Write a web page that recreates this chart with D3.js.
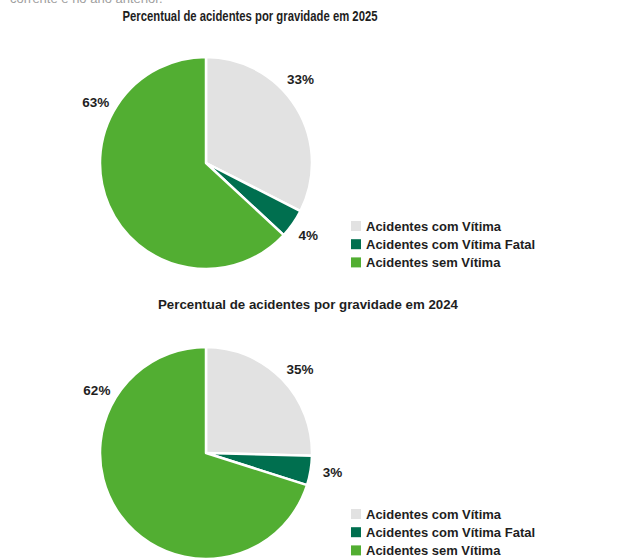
<!DOCTYPE html>
<html>
<head>
<meta charset="utf-8">
<script src="https://cdn.jsdelivr.net/npm/d3@7"></script>
<style>
  body { margin: 0; background: #fff; }
  svg { display: block; font-family: "Liberation Sans", Arial, sans-serif; }
</style>
</head>
<body>
<div id="chart"></div>
<script>
// categorias e valores
const categorias = ["Acidentes com Vítima", "Acidentes com Vítima Fatal", "Acidentes sem Vítima"];
const cores = ["#e2e2e2", "#006f4f", "#52ae32"];

// fatias como desenhadas
const fatias2025 = [32.5, 4.4, 63.1];
const fatias2024 = [25.4, 4.5, 70.1];
// rótulos como escritos
const rotulos2025 = ["33%", "4%", "63%"];
const rotulos2024 = ["35%", "3%", "62%"];

const titulo2025 = "Percentual de acidentes por gravidade em 2025";
const titulo2024 = "Percentual de acidentes por gravidade em 2024";

const width = 619, height = 558;

const svg = d3.select("#chart").append("svg")
    .attr("width", width)
    .attr("height", height)
    .attr("viewBox", [0, 0, width, height]);

// resto de texto cortado no topo
svg.append("text")
    .attr("x", 10).attr("y", 2.5)
    .attr("fill", "#a0a0a0")
    .style("font-size", "13px")
    .text("corrente e no ano anterior.");

const color = d3.scaleOrdinal(categorias, cores);

function desenhaPizza(params) {
    const g = svg.append("g");
    const cx = params.cx, cy = params.cy, r = params.r;

    g.append("text")
        .attr("x", params.titleX).attr("y", params.titleY)
        .attr("text-anchor", "middle")
        .attr("fill", "#1e1e1e")
        .style("font-size", params.titleSize + "px")
        .style("font-weight", "bold")
        .attr("textLength", params.titleLen)
        .attr("lengthAdjust", "spacingAndGlyphs")
        .text(params.titulo);

    const dados = categorias.map((c, i) => ({ cat: c, valor: params.fatias[i], rot: params.rotulos[i] }));
    const pie = d3.pie().sort(null).value(d => d.valor);
    const arc = d3.arc().innerRadius(0).outerRadius(r);
    const arcs = pie(dados);

    const pg = g.append("g").attr("transform", `translate(${cx},${cy})`);
    pg.selectAll("path")
        .data(arcs)
        .enter()
        .append("path")
        .attr("d", arc)
        .attr("fill", d => color(d.data.cat))
        .attr("stroke", "#fff")
        .attr("stroke-width", 2.5)
        .attr("stroke-linejoin", "round");

    // rótulos fora da pizza
    pg.selectAll("text")
        .data(arcs)
        .enter()
        .append("text")
        .attr("transform", (d, i) => {
            const a = params.angulos[i] * Math.PI / 180;
            const rr = params.raioRot[i];
            return `translate(${rr * Math.sin(a)},${-rr * Math.cos(a)})`;
        })
        .attr("text-anchor", "middle")
        .attr("dy", "0.35em")
        .attr("fill", "#1e1e1e")
        .style("font-size", "13.5px")
        .style("font-weight", "bold")
        .text(d => d.data.rot);

    // legenda
    const lg = g.append("g").attr("transform", `translate(${params.legX},${params.legY})`);
    const item = lg.selectAll("g")
        .data(categorias)
        .enter()
        .append("g")
        .attr("transform", (d, i) => `translate(0,${i * 18.2})`);
    item.append("rect")
        .attr("width", 10).attr("height", 10)
        .attr("fill", d => color(d));
    item.append("text")
        .attr("x", 15).attr("y", 9.5)
        .attr("fill", "#1e1e1e")
        .style("font-size", "13px")
        .style("font-weight", "bold")
        .text(d => d);
}

desenhaPizza({
    titulo: titulo2025, fatias: fatias2025, rotulos: rotulos2025,
    cx: 206, cy: 163, r: 106,
    titleX: 250, titleY: 21, titleLen: 255, titleSize: 14.5,
    angulos: [48.6, 125.2, 299], raioRot: [126, 125, 126],
    legX: 351, legY: 221
});

desenhaPizza({
    titulo: titulo2024, fatias: fatias2024, rotulos: rotulos2024,
    cx: 206, cy: 453, r: 106,
    titleX: 308, titleY: 309, titleLen: 300, titleSize: 13,
    angulos: [48.2, 98.5, 300], raioRot: [126, 128, 126],
    legX: 351, legY: 509
});
</script>
</body>
</html>
